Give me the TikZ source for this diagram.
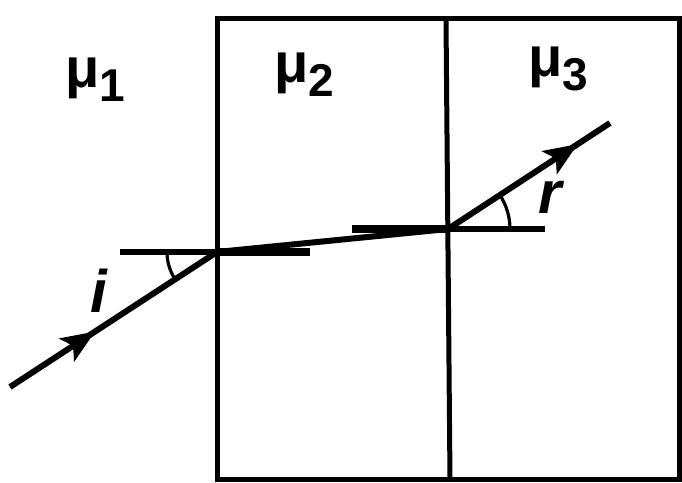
\documentclass[tikz,border=0pt]{standalone}
\usepackage{fontspec}
\setmainfont{Liberation Sans}
\usetikzlibrary{arrows.meta,calc,angles}
\begin{document}
\begin{tikzpicture}[x=0.5pt,y=0.5pt,
  wall/.style={line width=2.5pt,black},
  ray/.style={line width=3pt,black},
  normal/.style={line width=2.6pt,black},
  thicknormal/.style={line width=3.6pt,black},
  tip/.style={draw,line width=0.5pt,-{Stealth[length=17pt,width=14pt,inset=4pt]}},
  arc/.style={line width=1.6pt,black},
  mu/.style={inner sep=0pt,font=\bfseries},
  lbl/.style={inner sep=0pt,font=\fontsize{30}{30}\selectfont\bfseries\itshape}]
\useasboundingbox (0,0) rectangle (682,483);
% box
\coordinate (TL) at (217,464);
\coordinate (BR) at (679,3);
\coordinate (MT) at (446,464);
\coordinate (MB) at (450,3);
\draw[wall] (TL) rectangle (BR);
\draw[wall] (MT) -- (MB);
% ray points
\coordinate (S) at (10,96);
\coordinate (P1) at (217,231);
\coordinate (P2) at (448,254);
\coordinate (E) at (610,360);
\coordinate (N1) at (120,231);
\coordinate (N2) at (545,254);
\coordinate (H1) at (310,231);
\coordinate (H2) at (352,254);
% normals
\draw[normal] (N1) -- (P1);
\draw[normal] (P2) -- (N2);
\draw[thicknormal] (P1) -- (H1);
\draw[thicknormal] (H2) -- (P2);
% rays
\draw[ray] (S) -- (P1);
\draw[ray] (P1) -- (P2);
\draw[ray] (P2) -- (E);
\path[tip] ($(S)!0.25!(P1)$) -- ($(S)!0.41!(P1)$);
\path[tip] ($(P2)!0.60!(E)$) -- ($(P2)!0.80!(E)$);
% angles
\pic[draw,arc,angle radius=25pt] {angle=N1--P1--S};
\pic[draw,arc,angle radius=31pt] {angle=N2--P2--E};
% labels
\node[lbl] (li) at (99,192) {i};
\node[lbl] (lr) at (550,286) {r};
\node[mu] (m1) at (95,403) {\fontsize{28}{28}\selectfont μ\raisebox{-7pt}{\fontsize{23}{23}\selectfont 1}};
\node[mu] (m2) at (304,408) {\fontsize{28}{28}\selectfont μ\raisebox{-7pt}{\fontsize{23}{23}\selectfont 2}};
\node[mu] (m3) at (558,414) {\fontsize{28}{28}\selectfont μ\raisebox{-7pt}{\fontsize{23}{23}\selectfont 3}};
\end{tikzpicture}
\end{document}
